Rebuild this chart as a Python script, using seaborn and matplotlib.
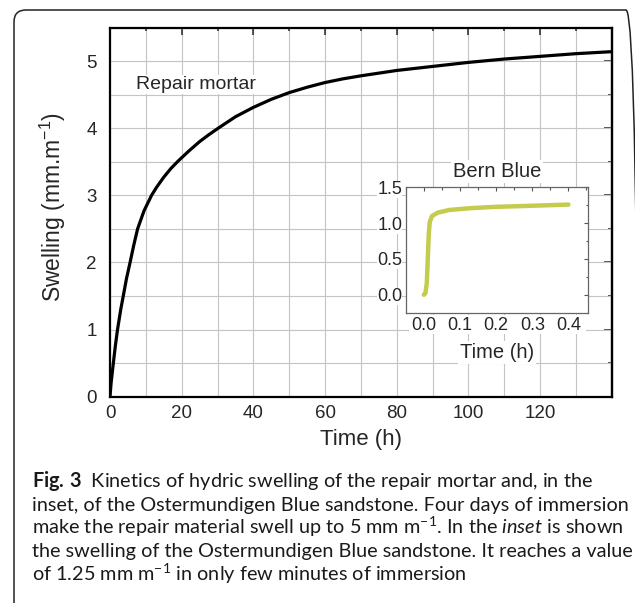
import matplotlib
matplotlib.use("Agg")
import matplotlib.pyplot as plt
from matplotlib.patches import FancyBboxPatch, Rectangle
from matplotlib.ticker import MultipleLocator, FormatStrFormatter
import seaborn as sns

# repair mortar swelling (mm/m) vs immersion time (h)
mortar_time = [0, 0.3, 0.93, 1.5, 2.1, 3.0, 3.7, 4.6, 5.6, 6.6, 7.7, 9.5,
               11.6, 13, 15, 17, 19, 22, 25, 27.5, 30.2, 35, 40, 45, 50, 55,
               60, 65, 70, 80, 90, 100, 110, 120, 130, 140]
mortar_swell = [0, 0.2, 0.5, 0.76, 1.0, 1.3, 1.5, 1.76, 2.0, 2.25, 2.5, 2.77,
                3.0, 3.12, 3.27, 3.4, 3.51, 3.66, 3.8, 3.9, 4.0, 4.17, 4.31,
                4.43, 4.53, 4.61, 4.68, 4.735, 4.78, 4.86, 4.92, 4.98, 5.03,
                5.07, 5.11, 5.14]

# Bern Blue sandstone (inset)
bern_time = [0, 0.0046, 0.0083, 0.011, 0.0139, 0.0167, 0.023, 0.039, 0.071,
             0.127, 0.192, 0.284, 0.40]
bern_swell = [0, 0.023, 0.163, 0.49, 0.86, 1.02, 1.10, 1.147, 1.184, 1.208,
              1.226, 1.240, 1.259]

x_ticks = [0, 20, 40, 60, 80, 100, 120]

caption_lines = [
    r"$\mathbf{Fig.\,3}$  Kinetics of hydric swelling of the repair mortar and, in the",
    "inset, of the Ostermundigen Blue sandstone. Four days of immersion",
    r"make the repair material swell up to 5 mm m$^{-1}$. In the $\mathit{inset}$ is shown",
    "the swelling of the Ostermundigen Blue sandstone. It reaches a value",
    r"of 1.25 mm m$^{-1}$ in only few minutes of immersion",
]
CAPTION_FONT = "Lato"

sns.set_style("white")
plt.rcParams["font.family"] = ["Liberation Sans", "DejaVu Sans"]
plt.rcParams["mathtext.default"] = "regular"
plt.rcParams["mathtext.fontset"] = "custom"
plt.rcParams["mathtext.rm"] = CAPTION_FONT
plt.rcParams["mathtext.it"] = CAPTION_FONT + ":italic"
plt.rcParams["mathtext.bf"] = CAPTION_FONT + ":bold"

W, H = 635, 603
fig = plt.figure(figsize=(W / 100, H / 100), dpi=100)

# main chart
ax = fig.add_axes([110 / W, 1 - 396.7 / H, 501.7 / W, 369.2 / H])
sns.lineplot(x=mortar_time, y=mortar_swell, ax=ax, color="black", lw=2.3)
ax.set_xlim(0, 140)
ax.set_ylim(0, 5.5)
ax.set_xticks(x_ticks)
ax.xaxis.set_minor_locator(MultipleLocator(10))
ax.yaxis.set_major_locator(MultipleLocator(1))
ax.yaxis.set_minor_locator(MultipleLocator(0.5))
ax.set_axisbelow(True)
ax.grid(True, which="both", color="#c4c4c4", lw=0.8)
for sp in ax.spines.values():
    sp.set_linewidth(1.6)
    sp.set_color("black")
ax.tick_params(axis="x", which="both", direction="in", top=True,
               labelsize=13.5, pad=6, width=1.1)
ax.tick_params(axis="x", which="major", length=5)
ax.tick_params(axis="x", which="minor", length=2.5)
ax.tick_params(axis="y", which="both", direction="out", labelsize=13.5,
               pad=3.5, width=1.1)
ax.tick_params(axis="y", which="major", length=6)
ax.tick_params(axis="y", which="minor", length=3)

right = ax.secondary_yaxis("right")
right.yaxis.set_major_locator(MultipleLocator(1))
right.yaxis.set_minor_locator(MultipleLocator(0.5))
right.tick_params(which="both", direction="in", labelright=False, width=1.1)
right.tick_params(which="major", length=6)
right.tick_params(which="minor", length=3)
right.spines["right"].set_linewidth(1.6)

ax.set_xlabel("Time (h)", fontsize=16)
ax.xaxis.set_label_coords(0.5, -0.117)
ax.xaxis.label.set_verticalalignment("center")
ax.set_ylabel("Swelling (mm.m$^{-1}$)", fontsize=16.5)
ax.yaxis.set_label_coords(-0.1136, 0.5125)
ax.yaxis.label.set_verticalalignment("center")

ax.text(7.2, 4.65, "Repair mortar", fontsize=14, ha="left", va="center",
        bbox=dict(fc="white", ec="none", pad=1))

# inset
inset = fig.add_axes([405.7 / W, 1 - 312.7 / H, 182.6 / W, 125.4 / H])
inset.set_facecolor("white")
sns.lineplot(x=bern_time, y=bern_swell, ax=inset, color="#c3cc4c", lw=3.2)
inset.set_xlim(-0.05, 0.455)
inset.set_ylim(-0.25, 1.5)
inset.xaxis.set_major_locator(MultipleLocator(0.1))
inset.xaxis.set_minor_locator(MultipleLocator(0.05))
inset.yaxis.set_major_locator(MultipleLocator(0.5))
inset.yaxis.set_minor_locator(MultipleLocator(0.25))
inset.xaxis.set_major_formatter(FormatStrFormatter("%.1f"))
inset.yaxis.set_major_formatter(FormatStrFormatter("%.1f"))
inset.tick_params(which="both", direction="in", top=True, right=True,
                  labelsize=13, color="#555555", width=0.8)
inset.tick_params(axis="x", pad=3)
inset.tick_params(axis="y", pad=2.5)
inset.tick_params(which="major", length=3)
inset.tick_params(which="minor", length=1.8)
for sp in inset.spines.values():
    sp.set_linewidth(0.9)
    sp.set_color("#666666")
for lab in inset.get_xticklabels() + inset.get_yticklabels():
    lab.set_bbox(dict(fc="white", ec="none", pad=0))
# white strip behind the inset's x tick labels (hides the main grid there)
inset.add_patch(Rectangle((0.02, -0.165), 0.97, 0.15, transform=inset.transAxes,
                          fc="white", ec="none", clip_on=False, zorder=0.5))
inset.set_xlabel("Time (h)", fontsize=14.5,
                 bbox=dict(fc="white", ec="none", pad=1.5))
inset.xaxis.set_label_coords(0.5, -0.321)
inset.xaxis.label.set_verticalalignment("center")
inset.text(0.5, 1.124, "Bern Blue", transform=inset.transAxes, fontsize=14.5,
           ha="center", va="center", bbox=dict(fc="white", ec="none", pad=1.5))

# caption: size the font so the longest line spans ~600 px like the original
renderer = fig.canvas.get_renderer()
probe = fig.text(0, 0, caption_lines[1], fontsize=14, family=CAPTION_FONT)
cap_size = 14 * 600 / probe.get_window_extent(renderer).width
probe.remove()
for i, line in enumerate(caption_lines):
    fig.text(31.5 / W, 1 - (487 + 23.5 * i) / H, line, ha="left",
             va="baseline", fontsize=cap_size, color="#1a1a1a",
             family=CAPTION_FONT)

# rounded frame, running off the right and bottom edges
r = 12  # corner radius in px
frame = FancyBboxPatch((14 / W, -40 / H), 624 / W, (603 - 10 + 40) / H,
                       boxstyle=f"round,pad=0,rounding_size={r / W}",
                       mutation_aspect=W / H, transform=fig.transFigure,
                       fc="none", ec="#222222", lw=1.1)
fig.add_artist(frame)

fig.savefig("out.png", dpi=100)
